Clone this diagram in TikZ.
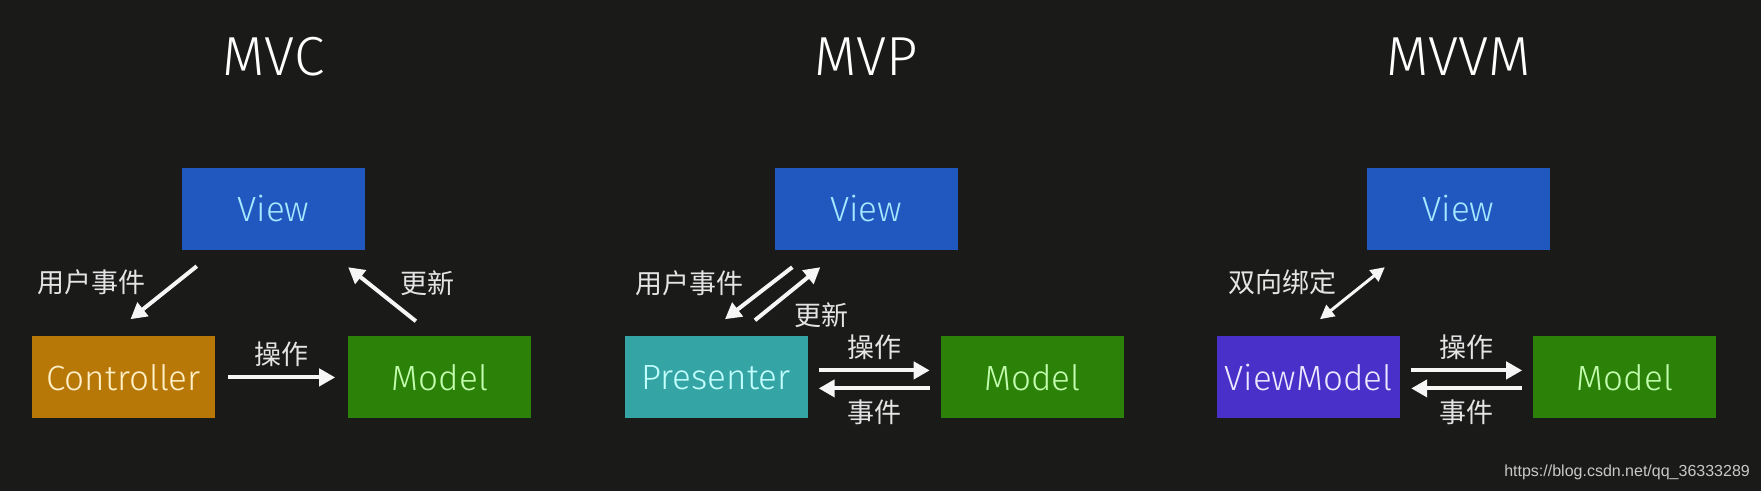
\documentclass[tikz,border=0pt]{standalone}
\usepackage{fontspec}
\setmainfont{Fira Sans Light}
\newfontfamily\cjk{Noto Sans CJK SC}
\newfontfamily\urlfont{Liberation Sans}
\usetikzlibrary{arrows.meta, positioning}
\definecolor{bgdark}{RGB}{26,27,25}
\definecolor{viewblue}{RGB}{33,88,192}
\definecolor{ctrlorange}{RGB}{184,120,8}
\definecolor{modelgreen}{RGB}{44,130,8}
\definecolor{presteal}{RGB}{52,164,164}
\definecolor{vmpurple}{RGB}{72,48,200}
\definecolor{viewtxt}{RGB}{165,232,255}
\definecolor{ctrltxt}{RGB}{255,240,200}
\definecolor{modeltxt}{RGB}{195,255,175}
\definecolor{prestxt}{RGB}{195,255,255}
\definecolor{vmtxt}{RGB}{236,232,255}
\definecolor{lbltxt}{RGB}{228,228,228}
\definecolor{arrwhite}{RGB}{246,246,246}
\definecolor{urlgray}{RGB}{200,200,200}

\begin{document}
\begin{tikzpicture}[x=1pt, y=-1pt,
  box/.style={rectangle, minimum width=183pt, minimum height=82pt, inner sep=0pt,
              font=\fontsize{35}{35}\selectfont},
  title/.style={inner sep=0pt, text=white, font=\fontsize{55}{55}\selectfont},
  lbl/.style={inner sep=0pt, text=lbltxt, font=\cjk\fontsize{27}{27}\selectfont},
  arr/.style={-{Triangle[length=16pt,width=17pt]}, line width=4pt, draw=arrwhite},
  twoway/.style={{Triangle[length=14pt,width=14pt]}-{Triangle[length=14pt,width=14pt]},
                 line width=3pt, draw=arrwhite}
]
  \fill[bgdark] (0,0) rectangle (1761,491);

  % MVC
  \node[box, fill=viewblue, text=viewtxt] (mvcView) at (273.5,209) {View};
  \node[title, above=92pt of mvcView] (mvcTitle) {MVC};
  \node[box, fill=ctrlorange, text=ctrltxt, below=86pt of mvcView, xshift=-150pt] (mvcCtrl) {Controller};
  \node[box, fill=modelgreen, text=modeltxt, right=133pt of mvcCtrl] (mvcModel) {Model};

  \coordinate (mvcUeA) at ([shift={(15,16)}]mvcView.south west);
  \coordinate (mvcUeB) at ([shift={(7,-17)}]mvcCtrl.north);
  \coordinate (mvcGxA) at ([shift={(-24,-15)}]mvcModel.north);
  \coordinate (mvcGxB) at ([shift={(-17,17)}]mvcView.south east);

  \draw[arr] (mvcUeA) -- node[lbl, pos=0.3, left=29pt] {用户事件} (mvcUeB);
  \draw[arr] (mvcGxA) -- node[lbl, pos=0.7, right=30pt] {更新} (mvcGxB);
  \draw[arr, shorten <=13pt, shorten >=13pt] (mvcCtrl) -- node[lbl, above=9pt] {操作} (mvcModel);

  % MVP
  \node[box, fill=viewblue, text=viewtxt] (mvpView) at (866,209) {View};
  \node[title, above=92pt of mvpView] (mvpTitle) {MVP};
  \node[box, fill=presteal, text=prestxt, below=86pt of mvpView, xshift=-150pt] (mvpPres) {Presenter};
  \node[box, fill=modelgreen, text=modeltxt, right=133pt of mvpPres] (mvpModel) {Model};

  \coordinate (mvpUeA) at ([shift={(18,17)}]mvpView.south west);
  \coordinate (mvpUeB) at ([shift={(9,-17)}]mvpPres.north);
  \coordinate (mvpGxA) at ([shift={(39,-16)}]mvpPres.north);
  \coordinate (mvpGxB) at ([shift={(46,17)}]mvpView.south west);

  \draw[arr] (mvpUeA) -- node[lbl, pos=0.3, left=27pt] {用户事件} (mvpUeB);
  \draw[arr] (mvpGxA) -- node[lbl, pos=0.1, right=31pt] {更新} (mvpGxB);
  \draw[arr, shorten <=11pt, shorten >=11pt] ([yshift=7pt]mvpPres.east) -- node[lbl, above=9pt] {操作} ([yshift=7pt]mvpModel.west);
  \draw[arr, shorten <=11pt, shorten >=11pt] ([yshift=-11pt]mvpModel.west) -- node[lbl, below=9pt] {事件} ([yshift=-11pt]mvpPres.east);

  % MVVM
  \node[box, fill=viewblue, text=viewtxt] (mvvmView) at (1458.5,209) {View};
  \node[title, above=92pt of mvvmView] (mvvmTitle) {MVVM};
  \node[box, fill=vmpurple, text=vmtxt, below=86pt of mvvmView, xshift=-150pt] (mvvmVm) {ViewModel};
  \node[box, fill=modelgreen, text=modeltxt, right=133pt of mvvmVm] (mvvmModel) {Model};

  \coordinate (mvvmBdA) at ([shift={(11.5,-17)}]mvvmVm.north);
  \coordinate (mvvmBdB) at ([shift={(18,17)}]mvvmView.south west);

  \draw[twoway] (mvvmBdA) -- node[lbl, pos=0.71, left=28pt] {双向绑定} (mvvmBdB);
  \draw[arr, shorten <=11pt, shorten >=11pt] ([yshift=7pt]mvvmVm.east) -- node[lbl, above=9pt] {操作} ([yshift=7pt]mvvmModel.west);
  \draw[arr, shorten <=11pt, shorten >=11pt] ([yshift=-11pt]mvvmModel.west) -- node[lbl, below=9pt] {事件} ([yshift=-11pt]mvvmVm.east);

  \node[anchor=east, inner sep=0pt, text=urlgray, font=\urlfont\fontsize{16}{16}\selectfont] (source) at (1750,472) {https://blog.csdn.net/qq\_36333289};
\end{tikzpicture}
\end{document}
